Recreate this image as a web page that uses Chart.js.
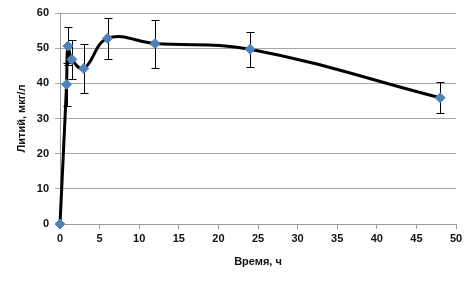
<!DOCTYPE html>
<html>
<head>
<meta charset="utf-8">
<script src="https://cdn.jsdelivr.net/npm/chart.js@4"></script>
<style>
  html, body { margin: 0; padding: 0; background: #fff; }
  #wrap { width: 472px; height: 282px; }
</style>
</head>
<body>
<div id="wrap"><canvas id="lithiumChart" width="472" height="282"></canvas></div>
<script>
// time points, hours
const hours = [0, 0.83, 1, 1.5, 3, 6, 12, 24, 48];
// lithium, ug/l
const lithium = [0, 39.7, 50.6, 46.8, 44.2, 52.8, 51.3, 49.7, 35.9];
// error bar half widths
const errors = [0, 6.2, 5.4, 5.6, 7.0, 5.8, 6.8, 5.0, 4.4];

const xTicks = [0, 5, 10, 15, 20, 25, 30, 35, 40, 45, 50];
const yTicks = [0, 10, 20, 30, 40, 50, 60];

document.addEventListener('DOMContentLoaded', () => {
    const ctx = document.getElementById('lithiumChart').getContext('2d');
    const tickFont = { family: 'Liberation Sans', size: 11, weight: 'bold' };

    // error bars drawn under the line and markers
    const errorBars = {
        id: 'errorBars',
        beforeDatasetsDraw(chart) {
            const c = chart.ctx;
            const yScale = chart.scales.y;
            const meta = chart.getDatasetMeta(0);
            c.save();
            c.strokeStyle = '#000';
            c.lineWidth = 1;
            meta.data.forEach((pt, i) => {
                const e = errors[i];
                if (!e) return;
                const top = Math.round(yScale.getPixelForValue(lithium[i] + e)) + 0.5;
                const bot = Math.round(yScale.getPixelForValue(lithium[i] - e)) + 0.5;
                const x = Math.round(pt.x) + 0.5;
                c.beginPath();
                c.moveTo(x, top); c.lineTo(x, bot);
                c.moveTo(x - 4, top); c.lineTo(x + 4, top);
                c.moveTo(x - 4, bot); c.lineTo(x + 4, bot);
                c.stroke();
            });
            c.restore();
        }
    };

    new Chart(ctx, {
        type: 'line',
        data: {
            datasets: [{
                data: hours.map((h, i) => ({ x: h, y: lithium[i] })),
                borderColor: '#000',
                borderWidth: 3,
                tension: 0.4,
                clip: false,
                pointStyle: 'rectRot',
                pointRadius: 5,
                pointBackgroundColor: '#4f81bd',
                pointBorderColor: '#4f81bd',
                pointBorderWidth: 1
            }]
        },
        options: {
            responsive: false,
            animation: false,
            layout: { padding: { top: 13, right: 16, left: 0, bottom: 0 } },
            plugins: {
                legend: { display: false },
                tooltip: { enabled: false }
            },
            scales: {
                x: {
                    type: 'linear',
                    min: 0,
                    max: 50,
                    afterBuildTicks: (scale) => { scale.ticks = xTicks.map(v => ({ value: v })); },
                    afterFit: (scale) => { scale.height = 58; },
                    grid: { drawOnChartArea: false, drawTicks: true, tickLength: 5, color: '#9a9a9a' },
                    border: { display: true, color: '#9a9a9a' },
                    ticks: { font: tickFont, color: '#111', padding: 3, maxRotation: 0 },
                    title: {
                        display: true,
                        text: 'Время, ч',
                        font: tickFont,
                        color: '#111',
                        padding: { top: 0, bottom: 13 }
                    }
                },
                y: {
                    min: 0,
                    max: 60,
                    afterBuildTicks: (scale) => { scale.ticks = yTicks.map(v => ({ value: v })); },
                    afterFit: (scale) => { scale.width = 60; },
                    grid: { color: '#a6a6a6', tickLength: 5 },
                    border: { display: true, color: '#9a9a9a' },
                    ticks: { font: tickFont, color: '#111', padding: 6 },
                    title: {
                        display: true,
                        text: 'Литий, мкг/л',
                        font: tickFont,
                        color: '#111',
                        padding: { top: 15, bottom: 0 }
                    }
                }
            }
        },
        plugins: [errorBars]
    });
});
</script>
</body>
</html>
